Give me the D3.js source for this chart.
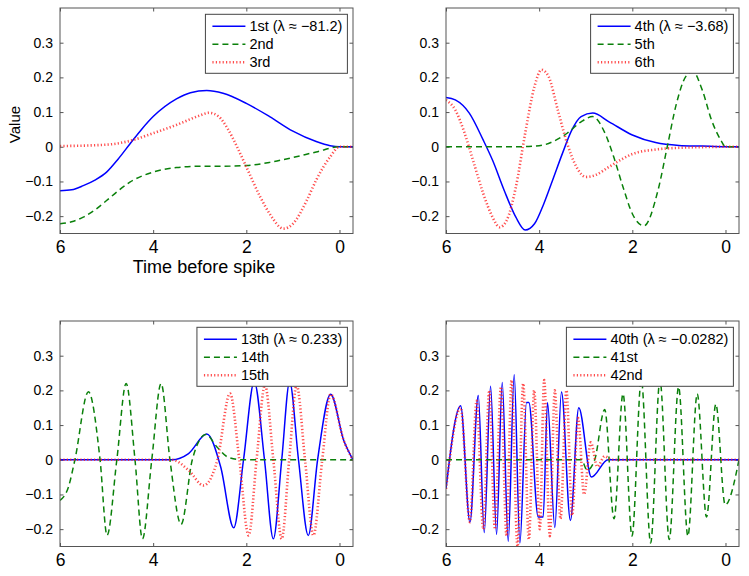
<!DOCTYPE html>
<html>
<head>
<meta charset="utf-8">
<script src="https://cdn.jsdelivr.net/npm/d3@7"></script>
<style>
  html, body { margin: 0; padding: 0; background: #fff; }
  svg { display: block; font-family: "Liberation Sans", Arial, sans-serif; }
</style>
</head>
<body>
<svg id="chart" width="749" height="576"></svg>
<script>
// ---------- data ----------
const xTicks = [0, 2, 4, 6];
const yTicks = [-0.2, -0.1, 0, 0.1, 0.2, 0.3];
const xDomain = [6, -0.29];
const yDomain = [-0.25, 0.4];

const legendLabels1 = ["1st (\u03bb \u2248 \u221281.2)", "2nd", "3rd"];
const legendLabels2 = ["4th (\u03bb \u2248 \u22123.68)", "5th", "6th"];
const legendLabels3 = ["13th (\u03bb \u2248 0.233)", "14th", "15th"];
const legendLabels4 = ["40th (\u03bb \u2248 \u22120.0282)", "41st", "42nd"];

// panel 1
const ev1X = [6, 5.75, 5.5, 5.25, 5, 4.75, 4.5, 4.25, 4, 3.5, 3.2, 2.85, 2.5, 2, 1.5, 1, 0.5, 0.2, 0, -0.29];
const ev1Y = [-0.127, -0.124, -0.112, -0.096, -0.073, -0.035, 0.008, 0.05, 0.087, 0.138, 0.156, 0.162, 0.154, 0.125, 0.087, 0.045, 0.015, 0.003, 0, 0];
const ev2X = [6, 5.75, 5.5, 5.25, 5, 4.75, 4.5, 4, 3.5, 3, 2.5, 2, 1.5, 1, 0.5, 0, -0.29];
const ev2Y = [-0.222, -0.216, -0.203, -0.182, -0.155, -0.127, -0.102, -0.073, -0.06, -0.056, -0.056, -0.054, -0.045, -0.031, -0.015, 0, 0];
const ev3X = [6, 5, 4.5, 4, 3.5, 3, 2.8, 2.6, 2.4, 2.2, 2, 1.7, 1.5, 1.2, 1, 0.7, 0.5, 0.2, 0, -0.29];
const ev3Y = [0.002, 0.006, 0.017, 0.039, 0.063, 0.09, 0.098, 0.088, 0.052, 0, -0.058, -0.145, -0.193, -0.236, -0.222, -0.154, -0.096, -0.029, 0, 0];

// panel 2
const ev4X = [6, 5.8, 5.5, 5.2, 5, 4.75, 4.5, 4.3, 4.1, 3.9, 3.7, 3.5, 3.3, 3.1, 2.85, 2.5, 2, 1.5, 1, 0.5, 0, -0.29];
const ev4Y = [0.142, 0.135, 0.097, 0.019, -0.039, -0.126, -0.203, -0.24, -0.222, -0.164, -0.092, -0.019, 0.048, 0.087, 0.097, 0.072, 0.034, 0.012, 0.004, 0.002, 0, 0];
const ev5X = [6, 4.5, 4, 3.7, 3.4, 3.1, 2.85, 2.6, 2.4, 2.2, 2.0, 1.75, 1.45, 1.25, 1.05, 0.85, 0.7, 0.5, 0.3, 0.1, 0, -0.29];
const ev5Y = [0, 0, 0.003, 0.015, 0.039, 0.072, 0.087, 0.043, -0.029, -0.116, -0.193, -0.228, -0.126, 0, 0.126, 0.203, 0.217, 0.164, 0.077, 0.019, 0, 0];
const ev6X = [6, 5.8, 5.6, 5.4, 5.2, 5.0, 4.85, 4.7, 4.5, 4.3, 4.1, 3.95, 3.8, 3.6, 3.4, 3.2, 3.0, 2.8, 2.5, 2.2, 2.0, 1.5, 1, 0.5, 0, -0.29];
const ev6Y = [0.135, 0.106, 0.039, -0.048, -0.135, -0.203, -0.232, -0.213, -0.116, 0.039, 0.174, 0.222, 0.203, 0.106, 0.01, -0.058, -0.087, -0.082, -0.058, -0.034, -0.021, -0.008, -0.003, -0.001, 0, 0];

// panel 3
const ev13X = [6, 3.6, 3.24, 2.85, 2.55, 2.27, 2.06, 1.83, 1.61, 1.42, 1.24, 1.07, 0.88, 0.67, 0.47, 0.19, -0.09, -0.29];
const ev13Y = [0, 0, 0.018, 0.074, -0.021, -0.196, 0, 0.225, 0, -0.228, 0, 0.225, 0, -0.218, 0, 0.189, 0.056, 0];
const ev14X = [6, 5.82, 5.68, 5.39, 5.14, 4.99, 4.78, 4.58, 4.39, 4.23, 4.03, 3.83, 3.64, 3.40, 3.16, 2.87, 2.63, 2.4, 2.1, -0.29];
const ev14Y = [-0.117, -0.079, 0, 0.196, 0, -0.218, 0, 0.22, 0, -0.228, 0, 0.22, 0, -0.186, 0, 0.073, 0.037, 0.008, 0, 0];
const ev15X = [6, 3.6, 3.24, 2.92, 2.62, 2.35, 2.15, 1.95, 1.78, 1.6, 1.42, 1.24, 1.08, 0.92, 0.74, 0.56, 0.37, 0.19, -0.09, -0.29];
const ev15Y = [0, 0, -0.03, -0.074, 0, 0.191, 0, -0.218, 0, 0.215, 0, -0.228, 0, 0.215, 0, -0.218, 0, 0.189, 0.056, 0];

// panel 4
const ev40X = [6, 5.686, 5.486, 5.307, 5.179, 5.043, 4.914, 4.793, 4.664, 4.536, 4.414, 4.271, 4.221, 4.021, 3.914, 3.821, 3.664, 3.521, 3.329, 3.15, 2.879, 2.521, -0.29];
const ev40Y = [-0.084, 0.156, -0.18, 0.185, -0.21, 0.212, -0.215, 0.223, -0.235, 0.245, -0.24, 0.165, 0.165, -0.165, -0.165, 0.165, -0.195, 0.195, -0.175, 0.15, -0.05, 0, 0];
const ev41X = [6, 3.093, 2.971, 2.807, 2.593, 2.393, 2.2, 2.007, 1.807, 1.607, 1.407, 1.207, 1.007, 0.807, 0.607, 0.407, 0.207, 0.007, -0.29];
const ev41Y = [0, 0, -0.03, 0, 0.145, -0.17, 0.19, -0.22, 0.23, -0.24, 0.23, -0.23, 0.21, -0.22, 0.19, -0.165, 0.16, -0.13, 0];
const ev42X = [6, 5.686, 5.486, 5.343, 5.2, 5.071, 4.95, 4.821, 4.7, 4.593, 4.464, 4.343, 4.221, 4.107, 3.986, 3.893, 3.771, 3.664, 3.543, 3.414, 3.293, 3.164, 3.036, 2.893, 2.75, 2.593, 2.45, -0.29];
const ev42Y = [-0.084, 0.15, -0.18, 0.17, -0.2, 0.2, -0.2, 0.21, -0.22, 0.23, -0.25, 0.22, -0.23, 0.2, -0.2, 0.23, -0.22, 0.2, -0.17, 0.2, -0.16, 0.12, -0.1, 0.05, -0.02, 0.01, 0, 0];

// ---------- layout / styles ----------
const W = 293, H = 225.5;
const styles = [
  { color: "#0000ff", width: 1.5, dash: null, opacity: 1 },
  { color: "#0a800a", width: 1.5, dash: "6,4", opacity: 1 },
  { color: "#ff2020", width: 2.6, dash: "1.2,2.2", opacity: 0.8 }
];
const panels = [
  { left: 60,  top: 8,   xs: [ev1X, ev2X, ev3X],    ys: [ev1Y, ev2Y, ev3Y],    labels: legendLabels1 },
  { left: 446, top: 8,   xs: [ev4X, ev5X, ev6X],    ys: [ev4Y, ev5Y, ev6Y],    labels: legendLabels2 },
  { left: 60,  top: 321, xs: [ev13X, ev14X, ev15X], ys: [ev13Y, ev14Y, ev15Y], labels: legendLabels3 },
  { left: 446, top: 321, xs: [ev40X, ev41X, ev42X], ys: [ev40Y, ev41Y, ev42Y], labels: legendLabels4 }
];

const svg = d3.select("#chart");
const x = d3.scaleLinear().domain(xDomain).range([0, W]);
const y = d3.scaleLinear().domain(yDomain).range([H, 0]);
const fmtY = v => (v < 0 ? "\u2212" : "") + (Math.abs(v) < 1e-9 ? "0" : d3.format(".1f")(Math.abs(v)));

panels.forEach((p, pi) => {
  const g = svg.append("g").attr("transform", `translate(${p.left},${p.top})`);
  const clipId = "clip" + pi;
  g.append("clipPath").attr("id", clipId).append("rect").attr("width", W).attr("height", H);

  // axes (ticks inward)
  const tl = 3.5;
  const gb = g.append("g").attr("transform", `translate(0,${H})`)
    .call(d3.axisBottom(x).tickValues(xTicks).tickSizeInner(-tl).tickSizeOuter(0).tickPadding(7).tickFormat(d3.format("d")));
  const gt = g.append("g")
    .call(d3.axisTop(x).tickValues(xTicks).tickSizeInner(-tl).tickSizeOuter(0).tickFormat(""));
  const gl = g.append("g")
    .call(d3.axisLeft(y).tickValues(yTicks).tickSizeInner(-tl).tickSizeOuter(0).tickPadding(7).tickFormat(fmtY));
  const gr = g.append("g").attr("transform", `translate(${W},0)`)
    .call(d3.axisRight(y).tickValues(yTicks).tickSizeInner(-tl).tickSizeOuter(0).tickFormat(""));
  [gb, gt, gl, gr].forEach(a => {
    a.select(".domain").remove();
    a.selectAll(".tick line").attr("stroke", "#555");
  });
  gb.selectAll(".tick text").attr("font-size", 17.5).attr("fill", "#000").attr("font-family", "Liberation Sans, Arial, sans-serif");
  gl.selectAll(".tick text").attr("font-size", 14).attr("fill", "#000").attr("font-family", "Liberation Sans, Arial, sans-serif");

  // lines
  const lg = g.append("g").attr("clip-path", `url(#${clipId})`);
  p.xs.forEach((xs, si) => {
    const pts = xs.map((v, i) => [v, p.ys[si][i]]);
    const line = d3.line().x(d => x(d[0])).y(d => y(d[1])).curve(d3.curveMonotoneX);
    const st = styles[si];
    lg.append("path").datum(pts).attr("d", line)
      .attr("fill", "none").attr("stroke", st.color).attr("stroke-width", st.width)
      .attr("stroke-opacity", st.opacity)
      .attr("stroke-dasharray", st.dash);
  });

  // box
  g.append("rect").attr("width", W).attr("height", H).attr("fill", "none").attr("stroke", "#555").attr("stroke-width", 1);

  // legend
  const leg = g.append("g");
  const bg = leg.append("rect").attr("fill", "#fff").attr("stroke", "#444").attr("stroke-width", 1);
  const rows = [];
  p.labels.forEach((lab, i) => {
    const st = styles[i];
    const r = leg.append("g");
    r.append("line").attr("x1", 7).attr("x2", 40).attr("y1", 0).attr("y2", 0)
      .attr("stroke", st.color).attr("stroke-width", st.width).attr("stroke-opacity", st.opacity)
      .attr("stroke-dasharray", st.dash);
    const t = r.append("text").attr("x", 44).attr("y", 0).attr("dy", "0.35em")
      .attr("font-size", 14.5).attr("fill", "#000").text(lab);
    rows.push({ r, t });
  });
  const tw = d3.max(rows, d => d.t.node().getComputedTextLength());
  const bw = 44 + tw + 5, bh = 59;
  const bx = W - 5.6 - bw, by = 6.3;
  leg.attr("transform", `translate(${bx},${by})`);
  bg.attr("width", bw).attr("height", bh);
  rows.forEach((d, i) => d.r.attr("transform", `translate(0,${12 + i * 18})`));
});

// axis labels on first panel
svg.append("text").attr("x", 204).attr("y", 273).attr("text-anchor", "middle")
  .attr("font-size", 18).attr("fill", "#000").text("Time before spike");
svg.append("text").attr("transform", "translate(20,124.5) rotate(-90)").attr("text-anchor", "middle")
  .attr("font-size", 15).attr("fill", "#000").text("Value");
</script>
</body>
</html>
